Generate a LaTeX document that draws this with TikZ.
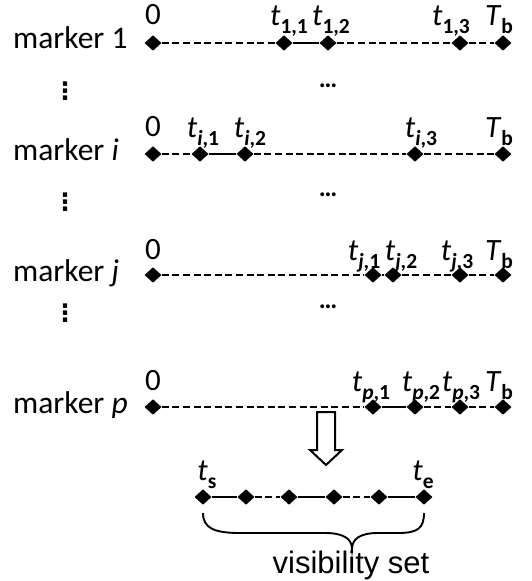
\documentclass[tikz,border=0pt]{standalone}
\usepackage{fontspec}
\setmainfont{Carlito}
\newfontfamily\arialfont{Liberation Sans}
\newfontfamily\symfont{DejaVu Sans}
\usetikzlibrary{shapes.geometric}
% time label: italic letter with a bold, lowered subscript
\newcommand\tlab[2]{\textit{#1}\raisebox{-0.28em}{\fontsize{21.5}{21.5}\selectfont\bfseries #2}}
\newcommand\bi[1]{\textbf{\textit{#1}}}

\begin{document}
\begin{tikzpicture}[x=1pt,y=-1pt,
  pt/.style={diamond,fill=black,inner sep=0pt,minimum width=17pt,minimum height=15.5pt},
  gap/.style={line width=2.4pt,dash pattern=on 7pt off 3.6pt},
  seen/.style={line width=2.4pt},
  lbl/.style={anchor=base,inner sep=0pt,font=\fontsize{31}{31}\selectfont},
  rowname/.style={anchor=base west,inner sep=0pt,font=\fontsize{31.5}{31.5}\selectfont},
  vdots/.style={inner sep=0pt,font=\symfont\bfseries\fontsize{24}{24}\selectfont},
  hdots/.style={inner sep=0pt,font=\bfseries\fontsize{26}{26}\selectfont}]
\useasboundingbox (0,0) rectangle (531,581);

% ---- marker 1 ----
\node[rowname] (m1) at (13,48) {marker 1};
\foreach \n/\x in {0/153,1/284,2/328,3/460,4/503} \node[pt] (a\n) at (\x,43) {};
\draw[gap] (a0) -- (a1);
\draw[seen] (a1) -- (a2);
\draw[gap] (a2) -- (a3);
\draw[gap] (a3) -- (a4);
\node[lbl] (la0) at (153,24) {0};
\node[lbl] (la1) at (289,25) {\tlab{t}{1,1}};
\node[lbl] (la2) at (331,25) {\tlab{t}{1,2}};
\node[lbl] (la3) at (451,25) {\tlab{t}{1,3}};
\node[lbl] (la4) at (499,25) {\tlab{T}{b}};

\node[vdots] (v1) at (65,91) {⋮};
\node[hdots] (h1) at (328,86) {…};

% ---- marker i ----
\node[rowname] (mi) at (13,160) {marker \textit{i}};
\foreach \n/\x in {0/153,1/200,2/245,3/415,4/503} \node[pt] (b\n) at (\x,154) {};
\draw[gap] (b0) -- (b1);
\draw[seen] (b1) -- (b2);
\draw[gap] (b2) -- (b3);
\draw[gap] (b3) -- (b4);
\node[lbl] (lb0) at (153,136) {0};
\node[lbl] (lb1) at (203,137) {\tlab{t}{\bi{i},1}};
\node[lbl] (lb2) at (250,137) {\tlab{t}{\bi{i},2}};
\node[lbl] (lb3) at (421,137) {\tlab{t}{\bi{i},3}};
\node[lbl] (lb4) at (499,137) {\tlab{T}{b}};

\node[vdots] (v2) at (65,202) {⋮};
\node[hdots] (h2) at (328,195) {…};

% ---- marker j ----
\node[rowname] (mj) at (13,281) {marker \textit{j}};
\foreach \n/\x in {0/153,1/373,2/393,3/460,4/503} \node[pt] (c\n) at (\x,275) {};
\draw[gap] (c0) -- (c1);
\draw[seen] (c1) -- (c2);
\draw[gap] (c2) -- (c3);
\draw[gap] (c3) -- (c4);
\node[lbl] (lc0) at (153,259) {0};
\node[lbl] (lc1) at (364,260) {\tlab{t}{\bi{j},1}};
\node[lbl] (lc2) at (401,260) {\tlab{t}{\bi{j},2}};
\node[lbl] (lc3) at (457,260) {\tlab{t}{\bi{j},3}};
\node[lbl] (lc4) at (499,260) {\tlab{T}{b}};

\node[vdots] (v3) at (65,313) {⋮};
\node[hdots] (h3) at (328,307) {…};

% ---- marker p ----
\node[rowname] (mp) at (13,413) {marker \textit{p}};
\foreach \n/\x in {0/153,1/373,2/415,3/460,4/503} \node[pt] (d\n) at (\x,407) {};
\draw[gap] (d0) -- (d1);
\draw[seen] (d1) -- (d2);
\draw[gap] (d2) -- (d3);
\draw[gap] (d3) -- (d4);
\node[lbl] (ld0) at (153,390) {0};
\node[lbl] (ld1) at (371,391) {\tlab{t}{\bi{p},1}};
\node[lbl] (ld2) at (421,391) {\tlab{t}{\bi{p},2}};
\node[lbl] (ld3) at (461,391) {\tlab{t}{\bi{p},3}};
\node[lbl] (ld4) at (499,391) {\tlab{T}{b}};

% ---- hollow arrow ----
\draw[line width=2pt,line join=miter]
  (317,412) -- (335,412) -- (335,450) -- (342,450) -- (326,465)
  -- (310,450) -- (317,450) -- cycle;

% ---- merged visibility set ----
\foreach \n/\x in {0/203,1/246,2/289,3/334,4/379,5/424} \node[pt] (e\n) at (\x,497) {};
\draw[seen] (e0) -- (e1);
\draw[gap] (e1) -- (e2);
\draw[seen] (e2) -- (e3);
\draw[gap] (e3) -- (e4);
\draw[seen] (e4) -- (e5);
\node[lbl] (ls) at (207,480) {\tlab{t}{s}};
\node[lbl] (le) at (423,480) {\tlab{t}{e}};

% curly brace under the set
\coordinate (bl) at (203,513);
\coordinate (br) at (424,513);
\coordinate (tip) at (352,549);
\draw[line width=1.9pt]
  (bl) .. controls (203,528) and (214,533) .. (240,533)
  -- (325,533) .. controls (344,533) and (352,539) .. (tip)
  .. controls (352,539) and (360,533) .. (378,533)
  -- (398,533) .. controls (418,533) and (424,528) .. (br);
\node[inner sep=0pt,anchor=base,font=\arialfont\fontsize{31}{31}\selectfont] (vs) at (351,573) {visibility set};
\end{tikzpicture}
\end{document}
